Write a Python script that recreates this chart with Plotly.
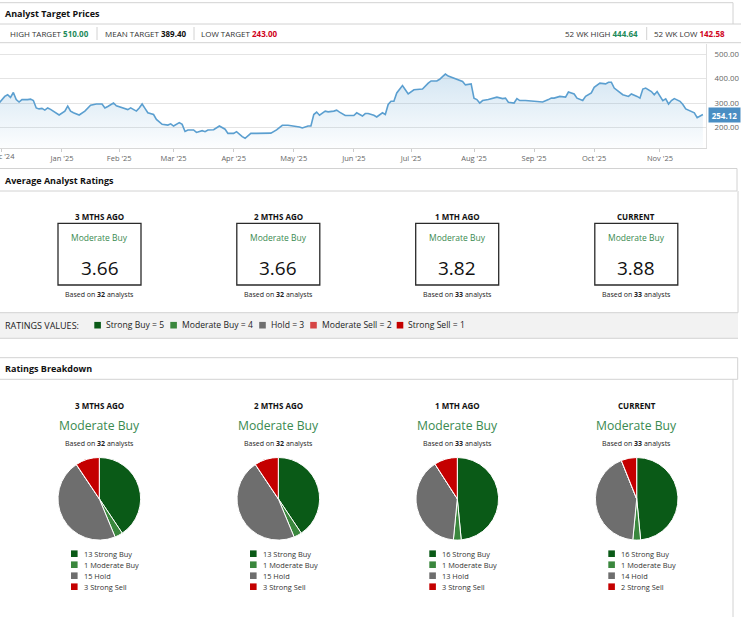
import plotly.graph_objects as go

W, H = 741, 617
FONT = "Open Sans"

# ---------------- data ----------------
high_target = 510.00
mean_target = 389.40
low_target = 243.00
wk52_high = 444.64
wk52_low = 142.58

price_dates = [
    "2024-11-29", "2024-12-03", "2024-12-04", "2024-12-05", "2024-12-06", "2024-12-09", "2024-12-10",
    "2024-12-11", "2024-12-13", "2024-12-16", "2024-12-17", "2024-12-18", "2024-12-19", "2024-12-20",
    "2024-12-23", "2024-12-24", "2024-12-26", "2024-12-30", "2024-12-31",
    "2025-01-03", "2025-01-06", "2025-01-07", "2025-01-08", "2025-01-13", "2025-01-15", "2025-01-17",
    "2025-01-22", "2025-01-24", "2025-01-27", "2025-01-28", "2025-01-30", "2025-01-31",
    "2025-02-06", "2025-02-07", "2025-02-11", "2025-02-12", "2025-02-13", "2025-02-14", "2025-02-18",
    "2025-02-20", "2025-02-21", "2025-02-25", "2025-02-27", "2025-02-28",
    "2025-03-03", "2025-03-05", "2025-03-06", "2025-03-07", "2025-03-10", "2025-03-12", "2025-03-13",
    "2025-03-17", "2025-03-18", "2025-03-19", "2025-03-21", "2025-03-25", "2025-03-27", "2025-03-28",
    "2025-04-01", "2025-04-02", "2025-04-03", "2025-04-04", "2025-04-07", "2025-04-09", "2025-04-11",
    "2025-04-15", "2025-04-21", "2025-04-23", "2025-04-25", "2025-04-29",
    "2025-05-01", "2025-05-05", "2025-05-06", "2025-05-08", "2025-05-09", "2025-05-12", "2025-05-13",
    "2025-05-14", "2025-05-16", "2025-05-19", "2025-05-21", "2025-05-22", "2025-05-23", "2025-05-28",
    "2025-06-02", "2025-06-03", "2025-06-05", "2025-06-06", "2025-06-09", "2025-06-11", "2025-06-12",
    "2025-06-16", "2025-06-17", "2025-06-18", "2025-06-20", "2025-06-23", "2025-06-24", "2025-06-26",
    "2025-06-27", "2025-06-30",
    "2025-07-02", "2025-07-07", "2025-07-08", "2025-07-10", "2025-07-11", "2025-07-15", "2025-07-16",
    "2025-07-17", "2025-07-18", "2025-07-21", "2025-07-23", "2025-07-24", "2025-07-28", "2025-07-29",
    "2025-07-31",
    "2025-08-01", "2025-08-04", "2025-08-05", "2025-08-06", "2025-08-08", "2025-08-12", "2025-08-13",
    "2025-08-15", "2025-08-18", "2025-08-19", "2025-08-21", "2025-08-22", "2025-08-25", "2025-08-27",
    "2025-09-02", "2025-09-04", "2025-09-05", "2025-09-09", "2025-09-10", "2025-09-11", "2025-09-15",
    "2025-09-17", "2025-09-18", "2025-09-22", "2025-09-23", "2025-09-25", "2025-09-26", "2025-09-30",
    "2025-10-01", "2025-10-03", "2025-10-07", "2025-10-08", "2025-10-09", "2025-10-10", "2025-10-14",
    "2025-10-15", "2025-10-17", "2025-10-20", "2025-10-22", "2025-10-23", "2025-10-24", "2025-10-27",
    "2025-10-29", "2025-10-30", "2025-10-31",
    "2025-11-03", "2025-11-04", "2025-11-05", "2025-11-06", "2025-11-07", "2025-11-10", "2025-11-12",
    "2025-11-13", "2025-11-14", "2025-11-18", "2025-11-19", "2025-11-20", "2025-11-21", "2025-11-24",
]
price_values = [
    301, 328, 335, 324, 344, 315, 305,
    315, 315, 317, 311, 281, 277, 279,
    272, 281, 275, 261, 252,
    268, 288, 268, 261, 252, 268, 292,
    297, 297, 281, 287, 301, 290,
    274, 281, 268, 281, 297, 279, 261,
    254, 234, 214, 211, 216,
    207, 221, 214, 185, 191, 191, 181,
    188, 184, 191, 192, 207, 194, 177,
    177, 184, 172, 164, 157, 177, 177,
    177, 178, 191, 210, 210,
    207, 203, 199, 207, 207, 254, 264,
    251, 268, 265, 268, 272, 264, 250,
    250, 261, 248, 258, 258, 251, 244,
    261, 254, 295, 308, 308, 342, 372,
    355, 338,
    355, 358, 358, 382, 391, 391, 398,
    409, 419, 411, 402, 398, 389, 375,
    379,
    321, 315, 301, 311, 315, 321, 325,
    319, 321, 304, 301, 319, 311, 311,
    308, 305, 305, 315, 321, 321, 328,
    325, 346, 338, 321, 311, 328, 342,
    365, 382, 379, 386, 386, 362, 344,
    335, 328, 338, 328, 321, 358, 362,
    348, 335, 348,
    331, 311, 318, 297, 311, 319, 308,
    295, 277, 264, 261, 241, 248, 254.12,
]
market_holidays = ["2024-12-25", "2025-01-01", "2025-01-09", "2025-01-20", "2025-02-17", "2025-04-18",
                   "2025-05-26", "2025-06-19", "2025-07-04", "2025-09-01"]
price_x_range = ["2024-11-29 08:00", "2025-11-25 02:00"]
month_tick_dates = ["2024-12-02", "2025-01-02", "2025-02-03", "2025-03-03", "2025-04-01", "2025-05-01",
                    "2025-06-02", "2025-07-01", "2025-08-01", "2025-09-02", "2025-10-01", "2025-11-03"]
month_tick_labels = ["Dec '24", "Jan '25", "Feb '25", "Mar '25", "Apr '25", "May '25",
                     "Jun '25", "Jul '25", "Aug '25", "Sep '25", "Oct '25", "Nov '25"]
price_y_ticks = [200, 300, 400, 500]

periods = ["3 MTHS AGO", "2 MTHS AGO", "1 MTH AGO", "CURRENT"]
consensus = ["Moderate Buy", "Moderate Buy", "Moderate Buy", "Moderate Buy"]
avg_rating = [3.66, 3.66, 3.82, 3.88]
n_analysts = [32, 32, 33, 33]

rating_names = ["Strong Buy", "Moderate Buy", "Hold", "Moderate Sell", "Strong Sell"]
rating_scores = [5, 4, 3, 2, 1]
rating_colors = ["#0a5a17", "#3a873d", "#6e6e6e", "#d64545", "#c40000"]

strong_buy = [13, 13, 16, 16]
moderate_buy = [1, 1, 1, 1]
hold = [15, 15, 13, 14]
moderate_sell = [0, 0, 0, 0]
strong_sell = [3, 3, 3, 2]

# ---------------- helpers ----------------
def X(p):
    return p / W


def Y(p):
    return 1 - p / H


shapes = []
annotations = []
LINE = "#d2d2d2"


def hline(x0, x1, y, color=LINE, w=1):
    shapes.append(dict(type="line", xref="paper", yref="paper", x0=X(x0), x1=X(x1), y0=Y(y), y1=Y(y),
                       line=dict(color=color, width=w)))


def vline(x, y0, y1, color=LINE, w=1):
    shapes.append(dict(type="line", xref="paper", yref="paper", x0=X(x), x1=X(x), y0=Y(y0), y1=Y(y1),
                       line=dict(color=color, width=w)))


def rect(x0, y0, x1, y1, fill=None, line_color=None, w=1):
    shapes.append(dict(type="rect", xref="paper", yref="paper", x0=X(x0), x1=X(x1), y0=Y(y1), y1=Y(y0),
                       fillcolor=fill if fill else "rgba(0,0,0,0)",
                       line=dict(color=line_color if line_color else "rgba(0,0,0,0)", width=w)))


def text(x, y, s, size=8, color="#222", anchor="left"):
    annotations.append(dict(xref="paper", yref="paper", x=X(x), y=Y(y), text=s, showarrow=False,
                            xanchor=anchor, yanchor="middle", font=dict(family=FONT, size=size, color=color)))


GREEN_TXT = "#1d8a5a"
RED_TXT = "#d0021b"
CONS_TXT = "#3a8a50"

# ---------------- section 1: target prices ----------------
hline(0, 733, 2.7)
vline(733, 2.7, 24)
hline(0, 741, 24)
hline(0, 741, 42.7)
text(3, 13.5, "<b>Analyst Target Prices</b>", 9, "#111")
text(8, 33.5, f"HIGH TARGET <b><span style='color:{GREEN_TXT}'>{high_target:.2f}</span></b>", 8, "#333")
vline(97, 27, 40)
text(103, 33.5, f"MEAN TARGET <b><span style='color:#111'>{mean_target:.2f}</span></b>", 8, "#333")
vline(194, 27, 40)
text(199, 33.5, f"LOW TARGET <b><span style='color:{RED_TXT}'>{low_target:.2f}</span></b>", 8, "#333")
text(640, 33.5, f"52 WK HIGH <b><span style='color:{GREEN_TXT}'>{wk52_high:.2f}</span></b>", 8, "#333",
     "right")
vline(646.7, 27, 40)
text(652, 33.5, f"52 WK LOW <b><span style='color:{RED_TXT}'>{wk52_low:.2f}</span></b>", 8, "#333")

last_price = price_values[-1]
annotations.append(dict(xref="paper", yref="y", x=X(707.5), y=last_price, text=f"<b>{last_price:.2f}</b>",
                        showarrow=False, xanchor="left", yanchor="middle", bgcolor="#4a8ec3",
                        borderpad=1.5, width=28,
                        font=dict(family=FONT, size=8, color="white")))
# first month label sits on the left edge of the chart (partly cut off, as in the source)
annotations.append(dict(xref="x", yref="paper", x=month_tick_dates[0], y=Y(156.3), text=month_tick_labels[0],
                        showarrow=False, xanchor="center", yanchor="middle",
                        font=dict(family=FONT, size=7.5, color="#666")))

# ---------------- section 2: average ratings ----------------
hline(0, 737, 168.5)
hline(0, 737, 191)
vline(737, 168.5, 191)
vline(738, 191, 312.7)
text(3, 180.5, "<b>Average Analyst Ratings</b>", 9, "#111")

col_cx = [99.5, 278.3, 457.2, 636.3]
for i, cx in enumerate(col_cx):
    text(cx, 216.7, f"<b>{periods[i]}</b>", 8, "#111", "center")
    rect(cx - 41.5, 223.3, cx + 41.5, 285, line_color="#2a2a2a", w=1.3)
    text(cx, 237.5, consensus[i], 8.5, CONS_TXT, "center")
    text(cx, 267.5, f"{avg_rating[i]:.2f}", 19, "#111", "center")
    text(cx, 294.5, f"Based on <b>{n_analysts[i]}</b> analysts", 7, "#222", "center")

# ratings values strip
rect(0, 312.7, 738, 338.3, fill="#f2f2f2")
hline(0, 738, 312.7)
hline(0, 738, 338.3)
text(3, 325.2, "RATINGS VALUES:", 9, "#222")
strip_sq_x = [94.3, 170.3, 259.2, 310.2, 396.7]
for k in range(len(rating_names)):
    sx = strip_sq_x[k]
    rect(sx, 321.9, sx + 6.6, 328.5, fill=rating_colors[k])
    text(sx + 9.3, 325.2, f"{rating_names[k]} = {rating_scores[k]}", 8.6, "#222")

# ---------------- section 3: ratings breakdown ----------------
hline(0, 737.7, 357.7)
hline(0, 737.7, 379.3)
vline(737.7, 357.7, 379.3)
vline(733, 379.3, 617)
text(3, 368.5, "<b>Ratings Breakdown</b>", 9, "#111")

counts_by_period = [[strong_buy[i], moderate_buy[i], hold[i], moderate_sell[i], strong_sell[i]]
                    for i in range(len(periods))]
pie_cx = [99.3, 278.3, 457.3, 636.7]
pie_cy = 498.8
pie_r = 41.3
legend_sq_x = [71.0, 250.0, 429.3, 608.3]

traces = []
for i, cx in enumerate(pie_cx):
    text(cx, 405, f"<b>{periods[i]}</b>", 8, "#111", "center")
    text(cx, 425.7, consensus[i], 12.2, CONS_TXT, "center")
    text(cx, 443.7, f"Based on <b>{n_analysts[i]}</b> analysts", 7, "#222", "center")
    traces.append(go.Pie(values=counts_by_period[i], labels=rating_names, sort=False, direction="clockwise",
                         rotation=0, textinfo="none", hoverinfo="skip", showlegend=False,
                         marker=dict(colors=rating_colors, line=dict(color="white", width=1)),
                         domain=dict(x=[X(cx - pie_r), X(cx + pie_r)], y=[Y(pie_cy + pie_r), Y(pie_cy - pie_r)])))
    row = 0
    for k in range(len(rating_names)):
        c = counts_by_period[i][k]
        if c == 0:
            continue
        yy = 553.7 + 11 * row
        sx = legend_sq_x[i]
        rect(sx, yy - 3.3, sx + 6.6, yy + 3.3, fill=rating_colors[k])
        text(sx + 10.5, yy, f"{c} {rating_names[k]}", 7.4, "#333")
        row += 1

# ---------------- price chart ----------------
price = go.Scatter(
    x=price_dates, y=price_values, mode="lines",
    line=dict(color="#5b9fd0", width=1.6),
    fill="tozeroy",
    fillgradient=dict(type="vertical", start=120, stop=430,
                      colorscale=[[0, "rgba(91,159,208,0.02)"], [1, "rgba(91,159,208,0.27)"]]),
    hoverinfo="skip", showlegend=False,
)

fig = go.Figure([price] + traces)
fig.update_layout(
    width=W, height=H, margin=dict(l=0, r=0, t=0, b=0),
    paper_bgcolor="white", plot_bgcolor="white",
    font=dict(family=FONT),
    shapes=shapes, annotations=annotations,
    xaxis=dict(domain=[0, X(706)], type="date", showgrid=False, range=price_x_range,
               rangebreaks=[dict(bounds=["sat", "mon"]), dict(values=market_holidays)],
               tickvals=month_tick_dates, ticktext=month_tick_labels,
               ticks="outside", ticklen=3, tickcolor="#cccccc",
               showline=True, linecolor="#d8d8d8", linewidth=1,
               tickfont=dict(family=FONT, size=7.5, color="#666"), fixedrange=True),
    yaxis=dict(domain=[Y(147.7), Y(44)], range=[118.6, 541.9], side="right",
               tickvals=price_y_ticks, tickformat=".2f", ticklabelstandoff=6,
               showgrid=True, gridcolor="#e4e4e4", gridwidth=1, zeroline=False,
               showline=True, linecolor="#e0e0e0", ticks="",
               tickfont=dict(family=FONT, size=7.8, color="#666"), fixedrange=True),
)

fig.write_html("out.html", config={"displayModeBar": False},
               post_script="document.body.style.margin='0';document.body.style.overflow='hidden';")
